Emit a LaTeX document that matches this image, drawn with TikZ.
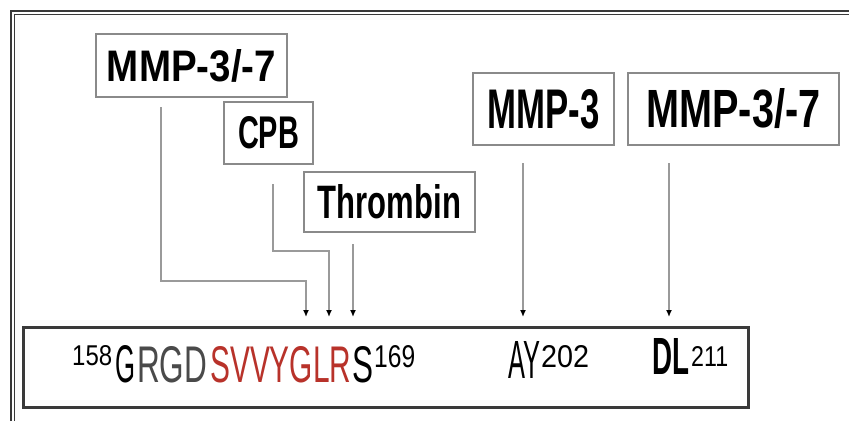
\documentclass[tikz,border=0pt]{standalone}
\usepackage{fontspec}
\setmainfont{Liberation Sans}
\usepackage{graphicx}
\usetikzlibrary{arrows.meta}
\definecolor{conngray}{HTML}{9A9A9A}
\definecolor{boxgray}{HTML}{8A8A8A}
\definecolor{seqred}{HTML}{B8322A}
\definecolor{seqgray}{HTML}{4A4A4A}
\definecolor{framegray}{HTML}{3A3A3A}
\newcommand{\szbox}[3]{\resizebox{#1pt}{#2pt}{#3}}
\tikzset{
  lbl/.style={draw=boxgray, line width=2pt, fill=white, inner sep=0pt, anchor=center},
  conn/.style={draw=conngray, line width=2pt, -{Latex[length=7pt,width=6pt,black]}},
  seqtxt/.style={inner sep=0pt, anchor=base west},
}
\begin{document}
\begin{tikzpicture}[x=1pt,y=-1pt]
\useasboundingbox (0,0) rectangle (849,421);
\fill[white] (0,0) rectangle (849,421);
% outer frame (double line, cut by picture edges)
\draw[framegray, line width=1.3pt] (11,421) -- (11,11) -- (849,11);
\draw[framegray, line width=1.3pt] (14.5,421) -- (14.5,14.5) -- (849,14.5);

% enzyme labels
\node[lbl, minimum width=191pt, minimum height=63pt] (mmpL) at (191.5,65.5) {\szbox{169}{32}{\bfseries MMP-3/-7}};
\node[lbl, minimum width=89pt, minimum height=62pt] (cpb) at (268.5,133) {\szbox{61}{32}{\bfseries CPB}};
\node[lbl, minimum width=171pt, minimum height=60pt] (thr) at (389.5,202) {\szbox{143}{34}{\bfseries Thrombin}};
\node[lbl, minimum width=141pt, minimum height=72pt] (mmp3) at (543.5,109) {\szbox{112}{39}{\bfseries MMP-3}};
\node[lbl, minimum width=211pt, minimum height=72pt] (mmpR) at (733.5,109) {\szbox{174}{39}{\bfseries MMP-3/-7}};

% sequence box
\node[draw=framegray, line width=3pt, minimum width=725pt, minimum height=80pt, inner sep=0pt] (seq) at (385.5,367) {};

% sequence text
\node[seqtxt] (s158) at (72,365) {\szbox{40}{20}{158}};
\node[seqtxt] (sG) at (115,382) {\szbox{20}{37}{G}};
\node[seqtxt, text=seqgray] (sRGD) at (137,382) {\szbox{70}{36}{RGD}};
\node[seqtxt, text=seqred] (sSVV) at (210,382) {\szbox{141}{36}{SVVYGLR}};
\node[seqtxt] (sS) at (352,382) {\szbox{21}{36}{S}};
\node[seqtxt] (s169) at (374,367) {\szbox{41}{22}{169}};
\node[seqtxt] (sAY) at (508,378) {\szbox{32}{37}{AY}};
\node[seqtxt] (s202) at (541,367) {\szbox{48}{22}{202}};
\node[seqtxt] (sDL) at (652,374) {\szbox{37}{36}{\bfseries DL}};
\node[seqtxt] (s211) at (691,366) {\szbox{37}{20}{211}};

% cleavage points
\coordinate (t1) at (306,317);
\coordinate (t2) at (329,317);
\coordinate (t3) at (353,317);
\coordinate (t4) at (523,317);
\coordinate (t5) at (669,317);

% connectors
\draw[conn] ([xshift=-30.5pt,yshift=-9pt]mmpL.south) |- ([yshift=36pt]t1) -- (t1);
\draw[conn] ([xshift=4.5pt,yshift=-19pt]cpb.south) |- ([yshift=66pt]t2) -- (t2);
\draw[conn] ([xshift=-36.5pt,yshift=-11pt]thr.south) -- (t3);
\draw[conn] ([xshift=-20.5pt,yshift=-17pt]mmp3.south) -- (t4);
\draw[conn] ([xshift=-64.5pt,yshift=-17pt]mmpR.south) -- (t5);
\end{tikzpicture}
\end{document}
